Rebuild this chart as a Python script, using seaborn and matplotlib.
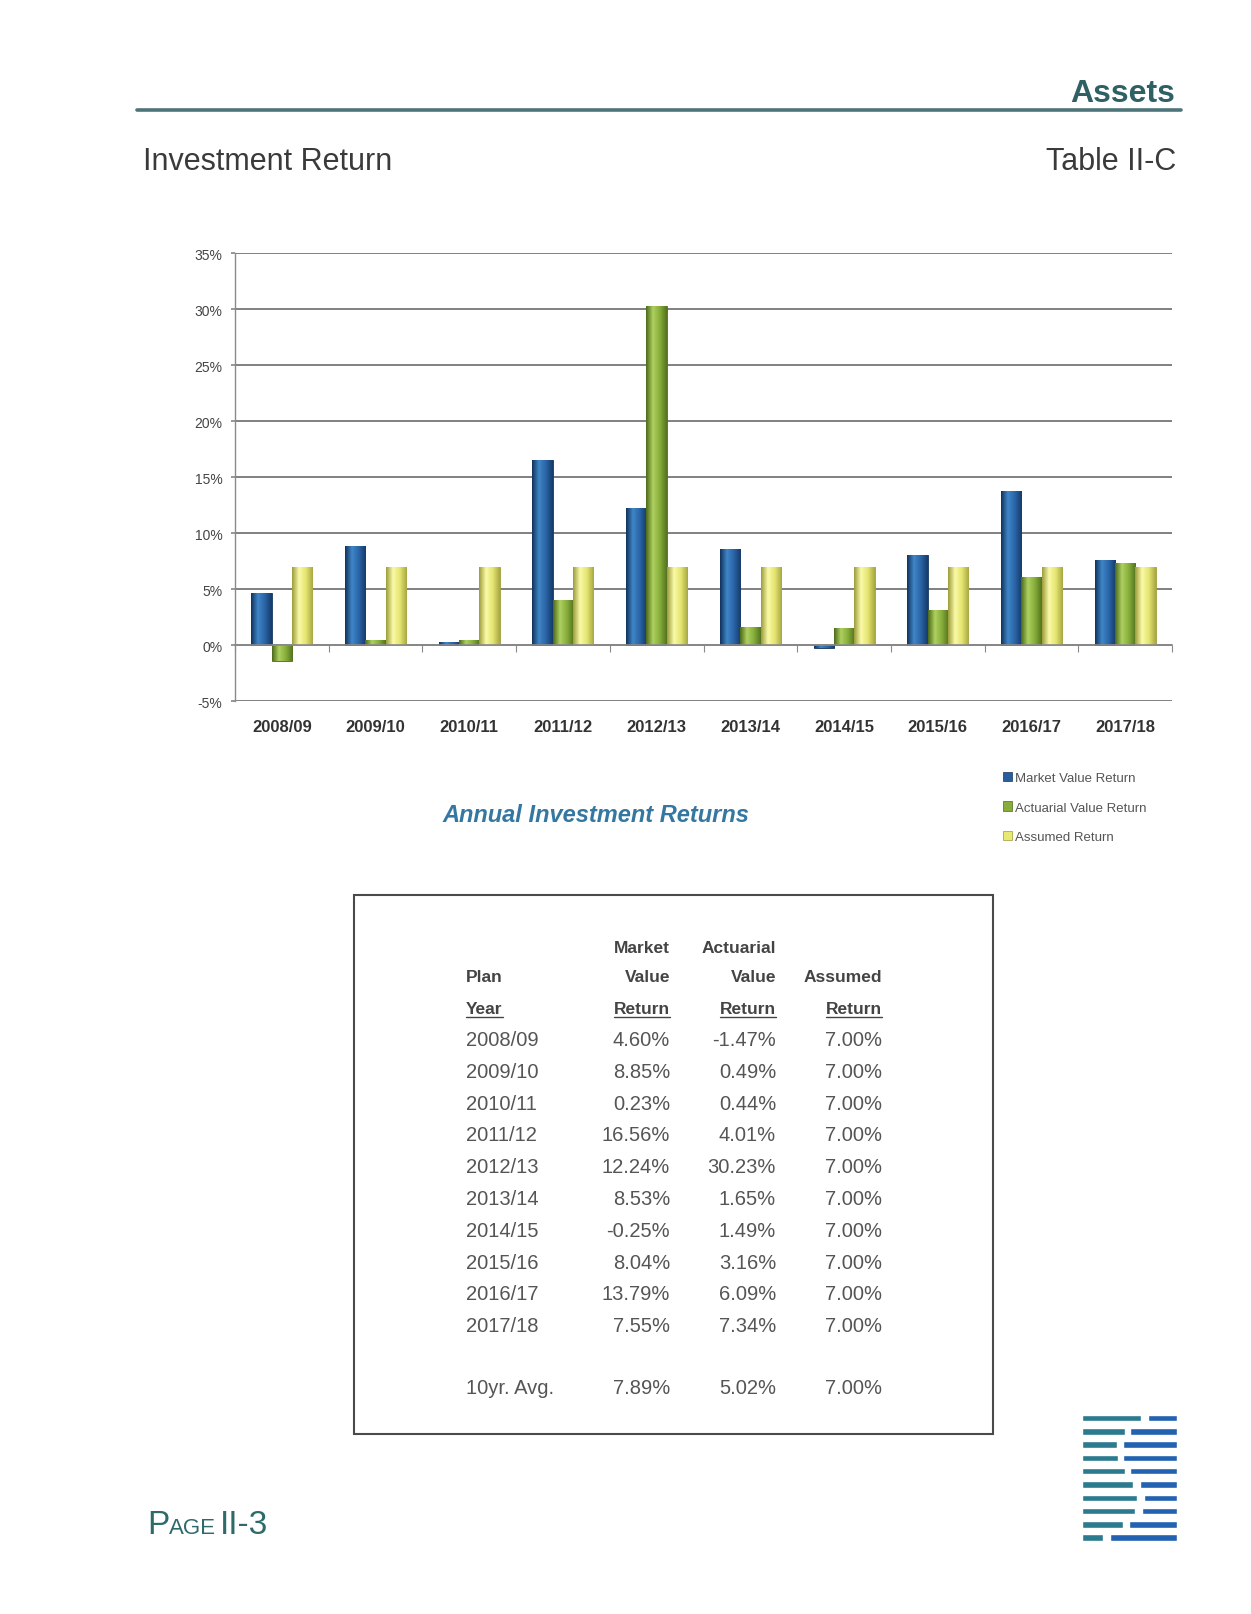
import numpy as np
import pandas as pd
import matplotlib
matplotlib.use("Agg")
import matplotlib.pyplot as plt
import seaborn as sns
from matplotlib.colors import LinearSegmentedColormap
from matplotlib.lines import Line2D
from matplotlib.patches import Rectangle, Patch

# ---------------- data ----------------
years = ["2008/09", "2009/10", "2010/11", "2011/12", "2012/13",
         "2013/14", "2014/15", "2015/16", "2016/17", "2017/18"]
market = [4.60, 8.85, 0.23, 16.56, 12.24, 8.53, -0.25, 8.04, 13.79, 7.55]
actuarial = [-1.47, 0.49, 0.44, 4.01, 30.23, 1.65, 1.49, 3.16, 6.09, 7.34]
assumed = [7.00, 7.00, 7.00, 7.00, 7.00, 7.00, 7.00, 7.00, 7.00, 7.00]
avg_label = "10yr. Avg."
avg_values = [7.89, 5.02, 7.00]
series = ["Market Value Return", "Actuarial Value Return", "Assumed Return"]
y_ticks = [-5, 0, 5, 10, 15, 20, 25, 30, 35]

df = pd.DataFrame({
    "Plan Year": years * 3,
    "Series": [series[0]] * 10 + [series[1]] * 10 + [series[2]] * 10,
    "Return": market + actuarial + assumed,
})

# ---------------- page setup ----------------
W, H = 1251, 1615
sns.set_theme(style="white")
plt.rcParams["font.family"] = ["Liberation Sans", "DejaVu Sans"]
NARROW = ["Liberation Sans Narrow", "Liberation Sans", "DejaVu Sans"]

def fx(x):
    return x / W

def fy(y):
    return 1 - y / H

fig = plt.figure(figsize=(W / 100, H / 100), dpi=100)
fig.patch.set_facecolor("white")

# header
fig.text(fx(1175), fy(102), "Assets", ha="right", va="baseline",
         fontsize=23, fontweight="bold", color="#2e6064", family=NARROW)
fig.add_artist(Line2D([fx(137), fx(1181)], [fy(111), fy(111)],
                      transform=fig.transFigure, color="#4d7479", lw=2.6))
fig.text(fx(143), fy(170), "Investment Return", ha="left", va="baseline",
         fontsize=22, color="#3a3a3a", family=NARROW)
fig.text(fx(1176), fy(170), "Table II-C", ha="right", va="baseline",
         fontsize=22, color="#3a3a3a", family=NARROW)

# ---------------- chart ----------------
ax = fig.add_axes([fx(235), fy(702), (1172 - 235) / W, (702 - 254) / H])
palette = {series[0]: "#2a5f9e", series[1]: "#86ad3a", series[2]: "#e8e874"}
edges = ["#163660", "#4f6a1c", "#9a9a3a"]
sns.barplot(data=df, x="Plan Year", y="Return", hue="Series", order=years,
            hue_order=series, palette=palette, width=0.65, saturation=1,
            legend=False, ax=ax, zorder=3)

cmaps = [
    LinearSegmentedColormap.from_list("b", ["#12325c", "#3f86c8", "#2a64a6", "#163b6a"]),
    LinearSegmentedColormap.from_list("g", ["#4d6a1a", "#aed060", "#86ad3a", "#55731f"]),
    LinearSegmentedColormap.from_list("y", ["#9c9c3c", "#fafaa8", "#e4e470", "#a8a844"]),
]
grad = np.linspace(0, 1, 64).reshape(1, -1)
ax.set_ylim(-5, 35)
xl = ax.get_xlim()
for cont, cm, ec in zip(ax.containers, cmaps, edges):
    for bar in cont:
        bar.set_edgecolor(ec)
        bar.set_linewidth(0.6)
        x0, y0 = bar.get_x(), bar.get_y()
        w, h = bar.get_width(), bar.get_height()
        im = ax.imshow(grad, extent=[x0, x0 + w, y0, y0 + h], aspect="auto",
                       cmap=cm, zorder=3.5, interpolation="bilinear")
        im.set_clip_path(bar)
ax.set_xlim(xl)
ax.set_ylim(-5, 35)

ax.set_yticks(y_ticks)
ax.set_yticklabels([f"{v}%" for v in y_ticks])
ax.grid(axis="y", color="#5e5e5e", lw=1.1, zorder=0)
ax.grid(axis="x", visible=False)
ax.set_axisbelow(True)
for s in ["top", "right"]:
    ax.spines[s].set_visible(False)
ax.spines["left"].set_color("#8a8a8a")
ax.spines["left"].set_linewidth(1.0)
ax.spines["bottom"].set_position(("data", 0))
ax.spines["bottom"].set_color("#8a8a8a")
ax.spines["bottom"].set_linewidth(1.2)
ax.spines["bottom"].set_linestyle((0, (2, 1)))
ax.spines["bottom"].set_zorder(4)
ax.set_xlabel("")
ax.set_ylabel("")
ax.set_xticks(np.arange(-0.5, len(years), 1), minor=True)
ax.tick_params(axis="x", which="minor", length=5, width=0.8, color="#8a8a8a",
               direction="out", bottom=True)
ax.tick_params(axis="x", which="major", length=0, pad=53, labelsize=12,
               labelcolor="#333333")
for t in ax.get_xticklabels():
    t.set_fontweight("bold")
ax.tick_params(axis="y", length=3, color="#8a8a8a", pad=6, labelsize=10,
               labelcolor="#444444", left=True)

# legend
handles = [Patch(facecolor=palette[s], edgecolor=e, lw=0.5) for s, e in zip(series, edges)]
fig.legend(handles=handles, labels=series, loc="upper left",
           bbox_to_anchor=(fx(1003), fy(773)), bbox_transform=fig.transFigure,
           frameon=False, fontsize=9.5, handlelength=0.7, handleheight=0.7,
           handletextpad=0.2, labelspacing=1.3, borderpad=0, borderaxespad=0,
           labelcolor="#555555")

fig.text(fx(596), fy(816), "Annual Investment Returns", ha="center", va="center",
         fontsize=17, fontweight="bold", style="italic", color="#3478a2")

# ---------------- table ----------------
fig.add_artist(Rectangle((fx(354), fy(1435)), (993 - 354) / W, (1435 - 896) / H,
                         transform=fig.transFigure, fill=False,
                         edgecolor="#4a4a4a", lw=1.5))

col_x = [670, 776, 882]
hdr_kw = dict(fontsize=12.5, fontweight="bold", color="#444444", family=NARROW,
              va="baseline")
fig.text(fx(col_x[0]), fy(953), "Market", ha="right", **hdr_kw)
fig.text(fx(col_x[1]), fy(953), "Actuarial", ha="right", **hdr_kw)
fig.text(fx(466), fy(982), "Plan", ha="left", **hdr_kw)
fig.text(fx(col_x[0]), fy(982), "Value", ha="right", **hdr_kw)
fig.text(fx(col_x[1]), fy(982), "Value", ha="right", **hdr_kw)
fig.text(fx(col_x[2]), fy(982), "Assumed", ha="right", **hdr_kw)
ul_texts = [fig.text(fx(466), fy(1014), "Year", ha="left", **hdr_kw)]
for cx in col_x:
    ul_texts.append(fig.text(fx(cx), fy(1014), "Return", ha="right", **hdr_kw))

row_kw = dict(fontsize=14.5, color="#555555", va="baseline")
row0, step = 1046, 31.8
for i, yr in enumerate(years):
    yb = row0 + i * step
    fig.text(fx(466), fy(yb), yr, ha="left", **row_kw)
    for cx, v in zip(col_x, [market[i], actuarial[i], assumed[i]]):
        fig.text(fx(cx), fy(yb), f"{v:.2f}%", ha="right", **row_kw)
yb = 1394
fig.text(fx(466), fy(yb), avg_label, ha="left", **row_kw)
for cx, v in zip(col_x, avg_values):
    fig.text(fx(cx), fy(yb), f"{v:.2f}%", ha="right", **row_kw)

# ---------------- footer ----------------
renderer = fig.canvas.get_renderer()
xpos = 147
for txt, fs, gap in [("P", 24, 0), ("AGE", 16, 4), ("II-3", 24, 0)]:
    t = fig.text(fx(xpos), fy(1534), txt, ha="left", va="baseline", fontsize=fs,
                 color="#2e6a6a", family=NARROW)
    bb = t.get_window_extent(renderer)
    xpos += bb.width + gap

for t in ul_texts:
    bb = t.get_window_extent(renderer)
    fig.add_artist(Line2D([bb.x0 / W, bb.x1 / W], [fy(1018), fy(1018)],
                          transform=fig.transFigure, color="#444444", lw=1.0))

# logo (decorative stripes)
lg = fig.add_axes([fx(1080), fy(1545), 100 / W, (1545 - 1412) / H])
lg.set_xlim(1080, 1180)
lg.set_ylim(1545, 1412)
lg.axis("off")
stripe_y = [1419 + k * 13.3 for k in range(10)]
gap_l = [1141, 1125, 1117, 1118, 1125, 1133, 1137, 1135, 1123, 1103]
gap_r = [1148, 1130, 1123, 1123, 1130, 1140, 1144, 1142, 1129, 1110]
for yy, gl, gr in zip(stripe_y, gap_l, gap_r):
    lg.barh(yy, gl - 1082, left=1082, height=6.5, color="#2b7a8e")
    lg.barh(yy, 1177 - gr, left=gr, height=6.5, color="#2262b0")

fig.savefig("out.png", dpi=100, facecolor="white")
